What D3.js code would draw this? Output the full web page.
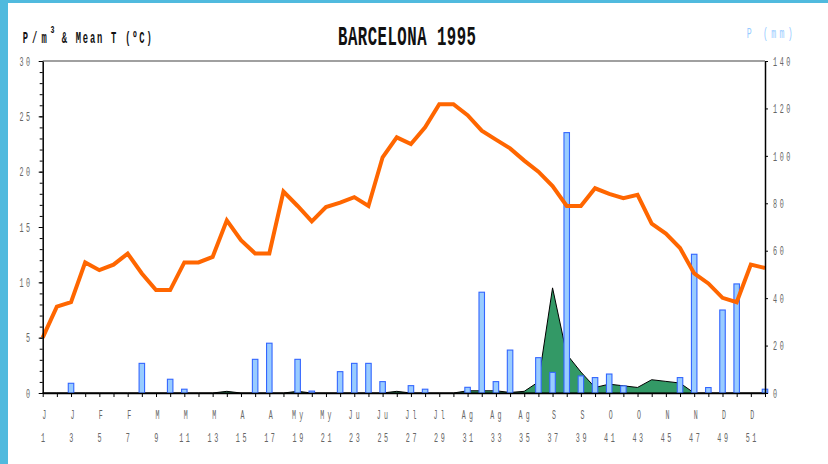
<!DOCTYPE html>
<html>
<head>
<meta charset="utf-8">
<script src="https://cdn.jsdelivr.net/npm/d3@7"></script>
<style>
  html, body { margin: 0; padding: 0; background: #fff; }
  svg { display: block; }
</style>
</head>
<body>
<div id="chart"></div>
<script>
// weekly data, Barcelona 1995
var weeks = d3.range(1, 53);

// mean temperature (ºC), left axis
var meanT = [5.0, 7.8, 8.2, 11.8, 11.1, 11.6, 12.6, 10.8, 9.3, 9.3,
             11.8, 11.8, 12.3, 15.6, 13.8, 12.6, 12.6, 18.2, 16.9, 15.5,
             16.8, 17.2, 17.7, 16.9, 21.3, 23.1, 22.5, 24.0, 26.1, 26.1,
             25.1, 23.7, 22.9, 22.1, 21.0, 20.0, 18.7, 16.9, 16.9, 18.5,
             18.0, 17.6, 17.9, 15.3, 14.4, 13.1, 10.8, 9.9, 8.6, 8.2,
             11.6, 11.3];

// pollen per m3, left axis (green area)
var pollen = [0, 0, 0, 0, 0, 0, 0, 0, 0, 0,
              0, 0, 0, 0.15, 0, 0, 0, 0, 0.15, 0,
              0, 0, 0, 0, 0, 0.15, 0, 0, 0, 0,
              0.2, 0.2, 0.2, 0.05, 0.15, 1.0, 9.5, 3.5, 1.9, 0.5,
              0.8, 0.65, 0.5, 1.2, 1.05, 0.9, 0, 0, 0, 0,
              0, 0];

// precipitation (mm), right axis (bars)
var rainWeeks = [3, 8, 10, 11, 16, 17, 19, 20, 22, 23, 24, 25, 27, 28,
                 31, 32, 33, 34, 36, 37, 38, 39, 40, 41, 42, 46, 47, 48, 49, 50, 52];
var rainMm = [4.1, 12.5, 5.8, 1.6, 14.2, 21, 14.2, 0.8, 9, 12.5, 12.5, 4.8, 3.1, 1.6,
              2.4, 42.5, 4.8, 18.1, 14.9, 8.7, 109.8, 7.2, 6.5, 8.0, 3.0, 6.5, 58.5, 2.3, 35, 46, 1.6];

// x axis labels (odd weeks)
var labelWeeks = d3.range(1, 53, 2);
var monthLabels = ["J", "J", "F", "F", "M", "M", "M", "A", "A", "My", "My", "Ju", "Ju",
                   "Jl", "Jl", "Ag", "Ag", "Ag", "S", "S", "O", "O", "N", "N", "D", "D"];

var leftTicks = d3.range(0, 31, 5);
var rightTicks = d3.range(0, 141, 20);

var W = 828, H = 464;
var PLOT = {left: 42.7, right: 765, top: 61, bottom: 393};
var MONO = "'Liberation Mono', 'DejaVu Sans Mono', monospace";

var svg = d3.select("#chart").append("svg")
    .attr("width", W)
    .attr("height", H);

// page frame stripes
svg.append("rect").attr("x", 0).attr("y", 0).attr("width", W).attr("height", 3).attr("fill", "#50bade");
svg.append("rect").attr("x", 0).attr("y", 0).attr("width", 8).attr("height", H).attr("fill", "#50bade");

var x = d3.scalePoint().domain(weeks).range([PLOT.left, PLOT.right]);
var yL = d3.scaleLinear().domain([0, 30]).range([PLOT.bottom, PLOT.top]);
var yR = d3.scaleLinear().domain([0, 140]).range([PLOT.bottom, PLOT.top]);

// squeeze text horizontally (narrow typewriter look)
function narrow(sel, sx) {
    sel.each(function () {
        var t = d3.select(this);
        var x0 = +t.attr("x") || 0;
        t.attr("x", x0 / sx).attr("transform", "scale(" + sx + ",1)");
    });
}

function label(str, px, py, o) {
    var t = svg.append("text")
        .attr("transform", "translate(" + px + "," + py + ") scale(" + o.sx + ",1)")
        .attr("font-family", MONO)
        .attr("font-size", o.size)
        .attr("font-weight", o.weight || "normal")
        .attr("fill", o.fill || "#111")
        .attr("text-anchor", o.anchor || "start")
        .text(str);
    if (o.width) t.attr("textLength", o.width / o.sx).attr("lengthAdjust", "spacing");
    return t;
}

// top frame line
svg.append("line")
    .attr("x1", PLOT.left).attr("x2", PLOT.right)
    .attr("y1", PLOT.top).attr("y2", PLOT.top)
    .attr("stroke", "#808080").attr("stroke-width", 1.5);

// pollen area
var area = d3.area()
    .x(function (d, i) { return x(weeks[i]); })
    .y0(PLOT.bottom)
    .y1(function (d) { return yL(d); });
svg.append("path")
    .datum(pollen)
    .attr("d", area)
    .attr("fill", "#339966")
    .attr("stroke", "#000")
    .attr("stroke-width", 1);

// rain bars
var barW = 5.5;
svg.selectAll(".bar")
    .data(rainWeeks)
    .enter().append("rect")
    .attr("class", "bar")
    .attr("x", function (d) { return x(d) - barW / 2; })
    .attr("y", function (d, i) { return yR(rainMm[i]); })
    .attr("width", barW)
    .attr("height", function (d, i) { return PLOT.bottom - yR(rainMm[i]); })
    .attr("fill", "#99ccff")
    .attr("stroke", "#3366ff")
    .attr("stroke-width", 1.1);

// temperature line
var line = d3.line()
    .x(function (d, i) { return x(weeks[i]); })
    .y(function (d) { return yL(d); });
svg.append("path")
    .datum(meanT)
    .attr("d", line)
    .attr("fill", "none")
    .attr("stroke", "#ff6600")
    .attr("stroke-width", 4)
    .attr("stroke-linejoin", "miter");

// left axis: minor + major
svg.append("g")
    .attr("transform", "translate(" + PLOT.left + ",0)")
    .call(d3.axisLeft(yL).tickValues(d3.range(0, 31, 1)).tickSize(3).tickFormat(""))
    .call(function (g) { g.select(".domain").remove(); g.selectAll("line").attr("stroke", "#000"); });

var gL = svg.append("g")
    .attr("transform", "translate(" + PLOT.left + ",0)")
    .call(d3.axisLeft(yL).tickValues(leftTicks).tickSize(4).tickPadding(6).tickSizeOuter(0));
gL.select(".domain").attr("stroke", "#000").attr("stroke-width", 1.5);
gL.selectAll("text")
    .attr("font-family", MONO).attr("font-size", 13).attr("fill", "#666")
    .attr("letter-spacing", 5);
narrow(gL.selectAll("text"), 0.52);

// right axis
var gR = svg.append("g")
    .attr("transform", "translate(" + PLOT.right + ",0)")
    .call(d3.axisRight(yR).tickValues(rightTicks).tickSize(3).tickPadding(5).tickSizeOuter(0));
gR.select(".domain").attr("stroke", "#000").attr("stroke-width", 1.5);
gR.selectAll("text")
    .attr("font-family", MONO).attr("font-size", 13).attr("fill", "#666")
    .attr("letter-spacing", 5);
narrow(gR.selectAll("text"), 0.52);

// bottom axis
var gB = svg.append("g")
    .attr("transform", "translate(0," + PLOT.bottom + ")")
    .call(d3.axisBottom(x).tickSize(4).tickFormat("").tickSizeOuter(0));
gB.select(".domain").attr("stroke", "#000").attr("stroke-width", 1.5);
gB.selectAll("line").attr("stroke", "#000");

labelWeeks.forEach(function (w, i) {
    label(monthLabels[i], x(w) + 1.5, 418.5, {size: 12, sx: 0.55, fill: "#666", anchor: "middle"})
        .attr("letter-spacing", monthLabels[i].length > 1 ? 6 : 0);
    label(String(w), x(w) + 1.5, 442, {size: 13, sx: 0.52, fill: "#666", anchor: "middle"})
        .attr("letter-spacing", 5);
});

// titles
label("BARCELONA 1995", 338, 45, {size: 27, sx: 0.58, weight: "bold", width: 138});
label("P/m", 22.7, 43.3, {size: 16, sx: 0.55, weight: "bold", width: 24});
label("3", 50.5, 33, {size: 11, sx: 0.6, weight: "bold"});
label("& Mean T (\u00baC)", 61.7, 43.3, {size: 16, sx: 0.55, weight: "bold", width: 90});
label("P (mm)", 746.7, 37.5, {size: 15, sx: 0.55, fill: "#99ccff", width: 46});
</script>
</body>
</html>
